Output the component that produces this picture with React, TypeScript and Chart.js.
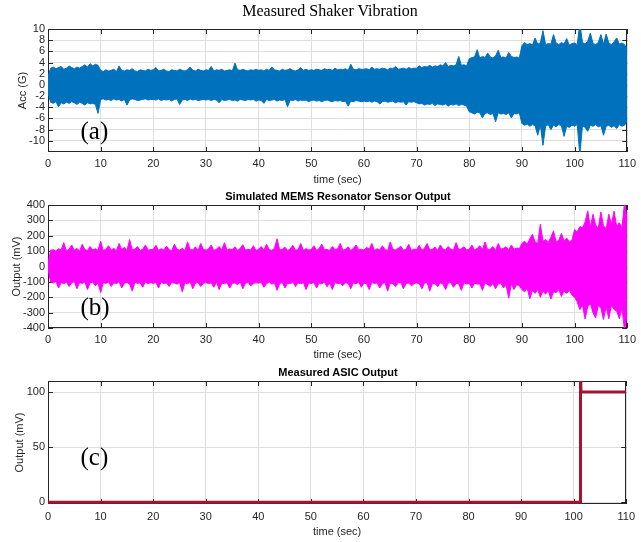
import React, { useEffect, useRef } from "react";
import { Chart, registerables } from "chart.js";

Chart.register(...registerables);

// ---------- data ----------
const SAMPLE_STEP = 0.5; // seconds between envelope samples

const X_TICKS = [0, 10, 20, 30, 40, 50, 60, 70, 80, 90, 100, 110];
const A_Y_TICKS = [-10, -8, -6, -4, -2, 0, 2, 4, 6, 8, 10];
const B_Y_TICKS = [-400, -300, -200, -100, 0, 100, 200, 300, 400];
const C_Y_TICKS = [0, 50, 100];

// (a) Measured shaker vibration, acceleration envelope (G)
const A_UPPER = [
  1.5, 3.0, 3.2, 2.9, 3.1, 3.3, 2.8, 3.0, 3.4, 3.1, 2.9, 3.2, 3.0, 3.3, 3.6, 3.2, 3.8, 3.4, 3.7, 3.5,
  2.6, 2.4, 2.7, 2.5, 2.6, 2.8, 2.4, 3.4, 2.6, 2.5, 2.7, 2.6, 2.9, 2.5, 2.4, 2.7, 2.6, 2.5, 2.8, 2.6,
  2.7, 3.1, 2.5, 2.6, 2.8, 2.5, 2.4, 2.7, 2.6, 2.5, 2.8, 2.6, 2.5, 2.7, 3.2, 2.6, 2.5, 2.8, 2.6, 2.5,
  2.7, 2.6, 3.3, 2.5, 2.7, 2.6, 2.8, 2.5, 2.6, 2.7, 2.5, 3.9, 2.7, 2.6, 2.8, 2.6, 2.5, 2.7, 2.6, 2.8,
  2.6, 2.7, 2.5, 2.8, 2.6, 3.2, 2.7, 2.6, 2.5, 2.8, 2.6, 2.7, 2.9, 2.6, 2.5, 2.7, 3.1, 2.6, 2.8, 2.6,
  2.7, 2.6, 2.8, 2.7, 2.6, 2.9, 2.7, 2.8, 2.6, 3.0, 2.7, 2.8, 2.7, 2.9, 2.6, 3.7, 2.8, 2.7, 2.9, 2.8,
  2.8, 2.9, 2.7, 3.2, 2.8, 2.9, 2.8, 3.0, 2.9, 2.7, 3.0, 2.9, 3.3, 2.8, 2.9, 3.0, 2.8, 3.1, 2.9, 3.0,
  3.0, 3.4, 3.1, 3.3, 3.2, 3.5, 3.2, 3.4, 3.3, 3.6, 3.4, 4.0, 3.3, 3.5, 3.4, 3.6, 5.1, 3.5, 3.6, 3.4,
  4.7, 4.9, 5.0, 6.3, 4.8, 5.1, 4.9, 5.7, 5.0, 4.8, 5.2, 6.2, 4.9, 5.0, 4.8, 5.8, 5.1, 4.9, 5.0, 4.8,
  7.0, 7.6, 7.2, 7.4, 7.1, 8.4, 7.3, 7.5, 9.7, 7.2, 7.4, 7.3, 9.0, 7.5, 7.2, 7.6, 7.3, 8.3, 7.1, 7.4,
  7.5, 7.2, 11.0, 7.6, 7.3, 7.8, 9.3, 7.4, 7.2, 7.6, 9.0, 7.3, 9.1, 7.5, 7.2, 7.7, 8.4, 7.3, 7.5, 7.2,
  6.5,
];
const A_LOWER = [
  -1.5, -3.1, -3.3, -3.0, -3.9, -3.2, -3.4, -3.1, -3.3, -3.0, -3.2, -3.5, -3.1, -3.3, -3.6, -3.2, -3.4, -3.3, -3.5, -5.1,
  -2.6, -2.5, -2.7, -2.6, -2.8, -2.5, -2.7, -2.6, -2.9, -2.6, -3.6, -2.7, -2.5, -2.6, -2.8, -2.7, -2.6, -2.5, -2.7, -2.6,
  -2.6, -2.7, -2.5, -2.8, -2.6, -2.7, -2.6, -2.9, -2.6, -2.5, -3.5, -2.7, -2.6, -2.8, -2.5, -2.7, -2.6, -2.8, -2.7, -2.6,
  -2.7, -2.6, -2.8, -2.6, -2.7, -3.2, -2.6, -2.8, -2.7, -2.6, -2.8, -2.7, -2.9, -2.6, -2.7, -2.8, -2.6, -2.7, -2.6, -2.9,
  -2.7, -2.8, -3.3, -2.6, -2.8, -2.7, -2.6, -2.9, -2.7, -2.8, -2.6, -3.9, -2.7, -2.8, -2.6, -2.9, -2.7, -2.8, -2.7, -3.0,
  -2.8, -2.7, -2.9, -2.8, -3.0, -2.8, -2.7, -2.9, -3.0, -2.8, -2.9, -2.8, -3.0, -2.9, -3.8, -2.9, -3.0, -2.8, -2.9, -3.0,
  -2.9, -3.0, -2.9, -3.1, -2.9, -3.0, -3.4, -3.0, -2.9, -3.1, -3.0, -2.9, -3.2, -3.0, -3.1, -3.0, -3.6, -3.0, -3.1, -3.0,
  -3.2, -3.4, -3.3, -3.6, -3.4, -3.5, -3.3, -3.7, -3.4, -3.5, -3.6, -3.4, -3.8, -3.5, -3.6, -3.4, -3.7, -3.5, -3.6, -3.8,
  -4.8, -5.0, -5.2, -4.9, -5.0, -5.9, -5.1, -5.0, -5.3, -5.1, -6.6, -5.0, -5.2, -5.1, -5.3, -5.0, -5.9, -5.1, -5.2, -5.0,
  -6.9, -7.2, -7.0, -7.4, -7.1, -7.3, -9.0, -7.2, -10.8, -7.4, -7.1, -8.0, -7.2, -7.5, -7.1, -7.3, -9.2, -7.4, -7.6, -7.2,
  -7.4, -7.1, -12.5, -7.3, -7.6, -8.3, -7.2, -7.4, -7.1, -7.5, -7.3, -9.0, -7.4, -7.2, -7.6, -7.3, -7.8, -7.1, -7.4, -7.2,
  -6.5,
];

// (b) Simulated MEMS resonator sensor output envelope (mV)
const B_UPPER = [
  20, 105, 110, 100, 115, 108, 155, 102, 112, 140, 105, 118, 100, 145, 110, 104, 130, 108, 115, 106,
  165, 104, 112, 135, 106, 118, 102, 150, 110, 125, 104, 175, 108, 114, 130, 103, 112, 140, 106, 110,
  112, 138, 104, 116, 108, 132, 110, 102, 145, 112, 106, 118, 104, 160, 110, 108, 128, 104, 150, 112,
  106, 115, 140, 104, 112, 130, 108, 155, 106, 114, 110, 128, 104, 118, 142, 106, 112, 108, 135, 104,
  112, 130, 106, 145, 110, 104, 118, 180, 108, 112, 126, 104, 114, 138, 106, 110, 150, 104, 116, 108,
  110, 135, 104, 118, 145, 108, 112, 104, 130, 110, 116, 150, 106, 112, 128, 104, 118, 140, 108, 112,
  106, 125, 112, 150, 104, 116, 108, 135, 110, 104, 160, 112, 108, 118, 132, 106, 112, 145, 104, 114,
  110, 138, 106, 118, 150, 108, 112, 126, 104, 140, 114, 108, 130, 112, 106, 155, 110, 116, 128, 108,
  112, 140, 106, 118, 135, 110, 160, 108, 114, 130, 106, 150, 112, 118, 128, 108, 140, 112, 120, 115,
  150, 165, 145, 180, 210, 160, 150, 275, 165, 175, 155, 190, 232, 160, 170, 215, 165, 185, 160, 170,
  240, 225, 260, 250, 290, 362, 255, 340, 270, 250, 355, 265, 245, 340, 275, 360, 260, 285, 250, 420,
  300,
];
const B_LOWER = [
  -20, -100, -108, -96, -140, -104, -112, -100, -130, -106, -98, -145, -104, -110, -100, -150, -106, -102, -125, -108,
  -170, -104, -110, -100, -130, -106, -112, -98, -140, -108, -104, -115, -160, -102, -110, -106, -135, -100, -112, -104,
  -110, -104, -140, -100, -112, -106, -130, -102, -108, -115, -104, -165, -106, -112, -100, -145, -108, -104, -130, -110,
  -104, -112, -106, -135, -100, -150, -108, -112, -104, -140, -110, -106, -118, -100, -145, -108, -104, -125, -110, -106,
  -108, -104, -135, -112, -100, -115, -106, -155, -110, -104, -140, -108, -112, -100, -130, -106, -112, -104, -150, -108,
  -110, -104, -140, -108, -112, -100, -132, -106, -150, -104, -112, -108, -125, -104, -110, -145, -106, -112, -100, -135,
  -108, -112, -150, -104, -110, -106, -140, -112, -104, -160, -108, -112, -130, -106, -104, -145, -110, -108, -125, -112,
  -106, -112, -145, -108, -104, -160, -110, -112, -130, -106, -114, -150, -108, -104, -135, -110, -112, -155, -106, -114,
  -110, -140, -108, -115, -112, -155, -106, -118, -130, -110, -145, -112, -108, -140, -120, -206, -112, -150, -118, -125,
  -150, -165, -140, -210, -155, -175, -150, -200, -160, -180, -155, -212, -165, -170, -150, -195, -160, -175, -155, -185,
  -200, -230, -280, -250, -342, -260, -240, -300, -335, -255, -270, -345, -260, -340, -250, -280, -290, -340, -270, -420,
  -300,
];

// (c) Measured ASIC output (mV)
const C_TIME = [0, 101.3, 101.3, 101.4, 110];
const C_OUTPUT = [0, 0, 120, 100, 100];

// ---------- styling ----------
const AXIS = "#262626";
const GRID = "#dedede";
const SANS = "'Liberation Sans', Arial, Helvetica, sans-serif";
const SERIF = "'Liberation Serif', 'Times New Roman', serif";
const BLUE = "#0072BD";
const MAGENTA = "#FF00FF";
const DARKRED = "#A2142F";
const W = 641;
const PLOT_LEFT = 48;
const PLOT_RIGHT = 628;

const boxPlugin = {
  id: "matlabBox",
  beforeDatasetsDraw(chart: any) {
    const { ctx, chartArea: a, scales } = chart;
    const L = 5;
    ctx.save();
    ctx.strokeStyle = AXIS;
    ctx.lineWidth = 1;
    ctx.beginPath();
    scales.x.ticks.forEach((t: any) => {
      const px = Math.round(scales.x.getPixelForValue(t.value)) + 0.5;
      ctx.moveTo(px, a.bottom);
      ctx.lineTo(px, a.bottom - L);
      ctx.moveTo(px, a.top);
      ctx.lineTo(px, a.top + L);
    });
    scales.y.ticks.forEach((t: any) => {
      const py = Math.round(scales.y.getPixelForValue(t.value)) + 0.5;
      ctx.moveTo(a.left, py);
      ctx.lineTo(a.left + L, py);
      ctx.moveTo(a.right, py);
      ctx.lineTo(a.right - L, py);
    });
    ctx.stroke();
    ctx.strokeRect(
      Math.round(a.left) + 0.5,
      Math.round(a.top) + 0.5,
      Math.round(a.right - a.left) - 1,
      Math.round(a.bottom - a.top) - 1
    );
    ctx.restore();
  },
};

function series(values: number[], color: string, fill: any) {
  return {
    data: values.map((v, i) => ({ x: i * SAMPLE_STEP, y: v })),
    borderColor: color,
    backgroundColor: color,
    borderWidth: 1,
    pointRadius: 0,
    tension: 0,
    fill,
  };
}

type PanelSpec = {
  top: number;
  height: number;
  padTop: number;
  xAxisHeight: number;
  xTickPad: number;
  xTitlePad: number;
  yMin: number;
  yMax: number;
  yTicks: number[];
  yTitle: string;
  yTitlePad: number;
  datasets: any[];
};

function makeConfig(p: PanelSpec): any {
  const tickFont = { family: SANS, size: 11 };
  return {
    type: "line",
    data: { datasets: p.datasets },
    plugins: [boxPlugin],
    options: {
      animation: false,
      responsive: false,
      maintainAspectRatio: false,
      devicePixelRatio: 1,
      events: [],
      layout: { padding: { top: p.padTop, right: W - PLOT_RIGHT, left: 0, bottom: 0 } },
      plugins: {
        legend: { display: false },
        title: { display: false },
        tooltip: { enabled: false },
      },
      scales: {
        x: {
          type: "linear",
          min: 0,
          max: 110,
          afterBuildTicks: (s: any) => {
            s.ticks = X_TICKS.map((v) => ({ value: v }));
          },
          afterFit: (s: any) => {
            s.height = p.xAxisHeight;
          },
          grid: { color: GRID, lineWidth: 1, drawTicks: false },
          border: { display: false },
          ticks: {
            color: AXIS,
            font: tickFont,
            padding: p.xTickPad,
            maxRotation: 0,
            autoSkip: false,
          },
          title: {
            display: true,
            text: "time (sec)",
            color: AXIS,
            font: tickFont,
            padding: { top: 0, bottom: p.xTitlePad },
          },
        },
        y: {
          type: "linear",
          min: p.yMin,
          max: p.yMax,
          afterBuildTicks: (s: any) => {
            s.ticks = p.yTicks.map((v) => ({ value: v }));
          },
          afterFit: (s: any) => {
            s.width = PLOT_LEFT;
          },
          grid: { color: GRID, lineWidth: 1, drawTicks: false },
          border: { display: false },
          ticks: { color: AXIS, font: tickFont, padding: 3, autoSkip: false },
          title: {
            display: true,
            text: p.yTitle,
            color: AXIS,
            font: tickFont,
            padding: { top: p.yTitlePad, bottom: 0 },
          },
        },
      },
    },
  };
}

const PANELS: PanelSpec[] = [
  {
    top: 0,
    height: 190,
    padTop: 29,
    xAxisHeight: 38,
    xTickPad: 5,
    xTitlePad: 3,
    yMin: -12,
    yMax: 10,
    yTicks: A_Y_TICKS,
    yTitle: "Acc (G)",
    yTitlePad: 16,
    datasets: [series(A_UPPER, BLUE, false), series(A_LOWER, BLUE, "-1")],
  },
  {
    top: 180,
    height: 185,
    padTop: 25,
    xAxisHeight: 37,
    xTickPad: 5,
    xTitlePad: 3,
    yMin: -400,
    yMax: 400,
    yTicks: B_Y_TICKS,
    yTitle: "Output (mV)",
    yTitlePad: 10,
    datasets: [series(B_UPPER, MAGENTA, false), series(B_LOWER, MAGENTA, "-1")],
  },
  {
    top: 360,
    height: 182,
    padTop: 21,
    xAxisHeight: 38,
    xTickPad: 6,
    xTitlePad: 3,
    yMin: -1.5,
    yMax: 110,
    yTicks: C_Y_TICKS,
    yTitle: "Output (mV)",
    yTitlePad: 13,
    datasets: [
      {
        data: C_TIME.map((t, i) => ({ x: t, y: C_OUTPUT[i] })),
        borderColor: DARKRED,
        backgroundColor: DARKRED,
        borderWidth: 3,
        pointRadius: 0,
        tension: 0,
        fill: false,
      },
    ],
  },
];

const textBase: React.CSSProperties = {
  position: "absolute",
  whiteSpace: "nowrap",
  margin: 0,
  padding: 0,
};

export default function App() {
  const r0 = useRef<HTMLCanvasElement>(null);
  const r1 = useRef<HTMLCanvasElement>(null);
  const r2 = useRef<HTMLCanvasElement>(null);
  const refs = [r0, r1, r2];

  useEffect(() => {
    const charts = PANELS.map((p, i) => new Chart(refs[i].current as HTMLCanvasElement, makeConfig(p)));
    return () => charts.forEach((c) => c.destroy());
  }, []);

  return (
    <div
      style={{
        position: "fixed",
        left: 0,
        top: 0,
        width: W,
        height: 542,
        background: "#fff",
        overflow: "hidden",
      }}
    >
      {PANELS.map((p, i) => (
        <canvas
          key={i}
          ref={refs[i]}
          width={W}
          height={p.height}
          style={{ position: "absolute", left: 0, top: p.top, width: W, height: p.height }}
        />
      ))}
      <div
        style={{
          ...textBase,
          left: 180,
          width: 300,
          top: 2.5,
          textAlign: "center",
          font: `16px/16px ${SERIF}`,
          color: "#000",
        }}
      >
        Measured Shaker Vibration
      </div>
      <div
        style={{
          ...textBase,
          left: 188,
          width: 300,
          top: 190.5,
          textAlign: "center",
          font: `bold 11px/11px ${SANS}`,
          color: "#000",
        }}
      >
        Simulated MEMS Resonator Sensor Output
      </div>
      <div
        style={{
          ...textBase,
          left: 188,
          width: 300,
          top: 366.5,
          textAlign: "center",
          font: `bold 11px/11px ${SANS}`,
          color: "#000",
        }}
      >
        Measured ASIC Output
      </div>
      <div style={{ ...textBase, left: 80.5, top: 117.5, font: `25px/25px ${SERIF}`, color: "#000" }}>(a)</div>
      <div style={{ ...textBase, left: 80.5, top: 294, font: `25px/25px ${SERIF}`, color: "#000" }}>(b)</div>
      <div style={{ ...textBase, left: 80.5, top: 444, font: `25px/25px ${SERIF}`, color: "#000" }}>(c)</div>
    </div>
  );
}
